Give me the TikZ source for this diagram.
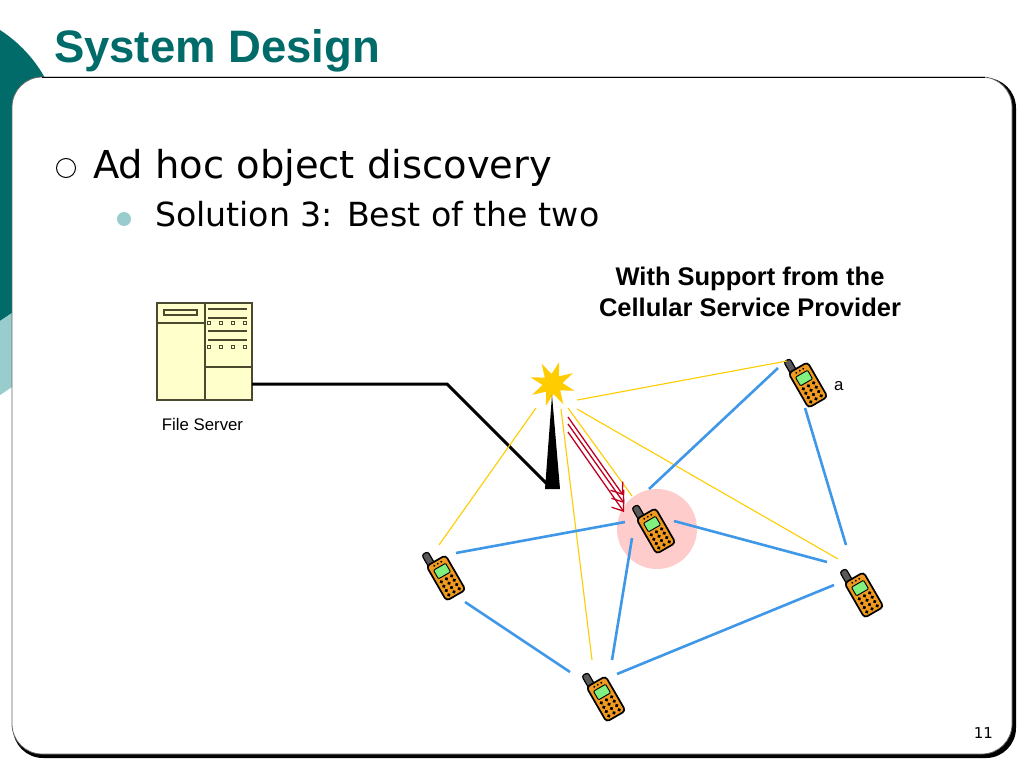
\documentclass[tikz,border=0pt]{standalone}
\usepackage{fontspec}
\setmainfont{Liberation Sans}
\newfontfamily\bodyfont{DejaVu Sans}
\usetikzlibrary{
    arrows.meta,
    shapes.geometric
}
\definecolor{tealdark}{HTML}{006B68}
\definecolor{teallight}{HTML}{99CCCC}
\definecolor{serverfill}{HTML}{FFFFCC}
\definecolor{serverline}{HTML}{4A4A30}
\definecolor{sunyellow}{HTML}{FFCC00}
\definecolor{linkblue}{HTML}{3F97E8}
\definecolor{phoneorange}{HTML}{F09A20}
\definecolor{phonegreen}{HTML}{80F080}
\definecolor{pushred}{HTML}{C00020}
\definecolor{spotpink}{HTML}{FFCCCC}
\tikzset{
    every picture/.style = {
        x = 1pt,
        y = -1pt
    },
    every node/.style = {
        inner sep = 0pt,
        outer sep = 0pt,
        align = center
    },
    link/.style = {
        draw = linkblue,
        line width = 2.6pt
    },
    radio/.style = {
        draw = sunyellow,
        line width = 1.1pt
    },
    push/.style = {
        draw = pushred,
        line width = 1.3pt,
        -{Straight Barb[length = 10pt, width = 15pt, line width = 1.3pt]}
    },
    serverpart/.style = {
        draw = serverline,
        line width = 1.1pt
    },
    serverbar/.style = {
        draw = serverline,
        line width = 2.3pt
    },
    phone/.pic = {
        \draw[black, line width = 1.2pt, fill = black!65, rounded corners = 2.5pt, rotate = 30]
            (-9.5, -32) rectangle (-2.5, -18);
        \draw[black, line width = 1.7pt, fill = phoneorange, rounded corners = 3.5pt, rotate = 30]
            (-11, -20) rectangle (11, 20);
        \draw[black, line width = 0.9pt, fill = phonegreen, rounded corners = 1pt, rotate = 30]
            (-7, -13) rectangle (7, -3);
        \begin{scope}[rotate = 30]
            \foreach \row in {1, 6, 11, 16} {
                \foreach \col in {-6, 0, 6} {
                    \fill[black] (\col, \row) circle (1.9);
                }
            }
            \foreach \col in {-4, 0, 4} {
                \fill[black] (\col, -16.5) circle (1.1);
            }
        \end{scope}
    }
}

\begin{document}
\begin{tikzpicture}
    \useasboundingbox (0, 0) rectangle (1024, 768);

    % slide frame
    \fill[tealdark] (0, 30) .. controls (20, 43) and (35, 60) .. (45, 78) -- (45, 120) -- (12, 313) -- (0, 321) -- cycle;
    \fill[teallight] (0, 321) -- (12, 313) -- (12, 387) -- (0, 395) -- cycle;
    \fill[black] (13, 78) [rounded corners = 30pt] rectangle (1016, 758);
    \draw[black!60, fill = white, line width = 0.8pt, rounded corners = 30pt] (12, 77) rectangle (1012, 754);
    \draw[black, line width = 0.8pt] (42, 77) -- (985, 77);

    % texts
    \node[anchor = base west, text = tealdark, font = {\bfseries\fontsize{45.5}{50}\selectfont}] (title) at (54, 63) {System Design};
    \draw[black, line width = 1pt] (66, 168) circle (9.5);
    \node[anchor = base west, font = {\bodyfont\fontsize{38.45}{44}\selectfont}] (topic) at (93, 178) {Ad hoc object discovery};
    \fill[teallight] (124, 219) circle (7);
    \node[anchor = base west, font = {\bodyfont\fontsize{33.2}{38}\selectfont}] (subtopic) at (155, 226) {Solution 3: Best of the two};
    \node[font = {\bfseries\fontsize{25.5}{31}\selectfont}] (support) at (750, 292) {With Support from the\\Cellular Service Provider};
    \node[anchor = base east, font = {\bodyfont\fontsize{15}{18}\selectfont}] (pagenum) at (993, 738) {11};

    % file server
    \node[draw = serverline, fill = serverfill, line width = 1.1pt, minimum width = 95pt, minimum height = 97pt] (server) at (204.5, 351.5) {};
    \node[anchor = base, font = {\fontsize{16.8}{20}\selectfont}] (serverlabel) at (202.5, 430) {File Server};
    \draw[serverpart] (205, 303) -- (205, 400);
    \draw[serverpart] (157, 323) -- (205, 323);
    \draw[serverpart] (205, 367) -- (252, 367);
    \draw[serverpart] (164, 310) rectangle (197, 315);
    \foreach \rowy in {309, 318, 331, 340} {
        \draw[serverbar] (208, \rowy) -- (247, \rowy);
    }
    \foreach \rowy in {323, 347} {
        \foreach \colx in {209, 221, 233, 245} {
            \draw[serverline, line width = 1.1pt] (\colx - 1.5, \rowy - 1.5) rectangle (\colx + 1.5, \rowy + 1.5);
        }
    }

    % tower
    \node[star, star points = 8, star point ratio = 2.3, shape border rotate = -17, fill = sunyellow, minimum size = 46pt] (spark) at (552.5, 384) {};
    \fill[black] (552, 395) -- (560, 489) -- (545, 489) -- cycle;
    \coordinate (bend) at (447, 384);
    \coordinate (foot) at (547, 484);
    \draw[black, line width = 3pt] (server.east |- bend) -- (bend) -- (foot);

    % phones
    \fill[spotpink] (657, 529) circle (40);
    \pic at (808, 385) {phone};
    \pic at (656, 531) {phone};
    \pic at (446, 578) {phone};
    \pic at (864, 595) {phone};
    \pic at (606, 699) {phone};
    \node[anchor = base west, font = {\fontsize{16.8}{20}\selectfont}] (labela) at (834, 390) {a};

    % ends of the connectors
    \foreach \endname/\endx/\endy in {
        ya/577/400, ab/787/361,
        yl/536/408, lb/439/545,
        yb/561/409, bb/592/660,
        yc/568/408, cb/632/496,
        yr/577/409, rb/838/559,
        ca/649/489, ac/778/368,
        cl/625/522, lc/456/553,
        cr/674/521, rc/827/562,
        cd/632/538, dc/612/660,
        ld/465/602, dl/570/672,
        dr/617/674, rd/834/585,
        ar/805/408, ra/846/545,
        p1/568/417, q1/623/495,
        p2/568/424, q2/624/503,
        p3/568/432, q3/624/512} {
        \coordinate (\endname) at (\endx, \endy);
    }

    % radio links
    \draw[radio] (ya) -- (ab);
    \draw[radio] (yl) -- (lb);
    \draw[radio] (yb) -- (bb);
    \draw[radio] (yc) -- (cb);
    \draw[radio] (yr) -- (rb);

    % links between phones
    \draw[link] (ca) -- (ac);
    \draw[link] (cl) -- (lc);
    \draw[link] (cr) -- (rc);
    \draw[link] (cd) -- (dc);
    \draw[link] (ld) -- (dl);
    \draw[link] (dr) -- (rd);
    \draw[link] (ar) -- (ra);

    % push from the tower
    \draw[push] (p1) -- (q1);
    \draw[push] (p2) -- (q2);
    \draw[push] (p3) -- (q3);
\end{tikzpicture}
\end{document}
